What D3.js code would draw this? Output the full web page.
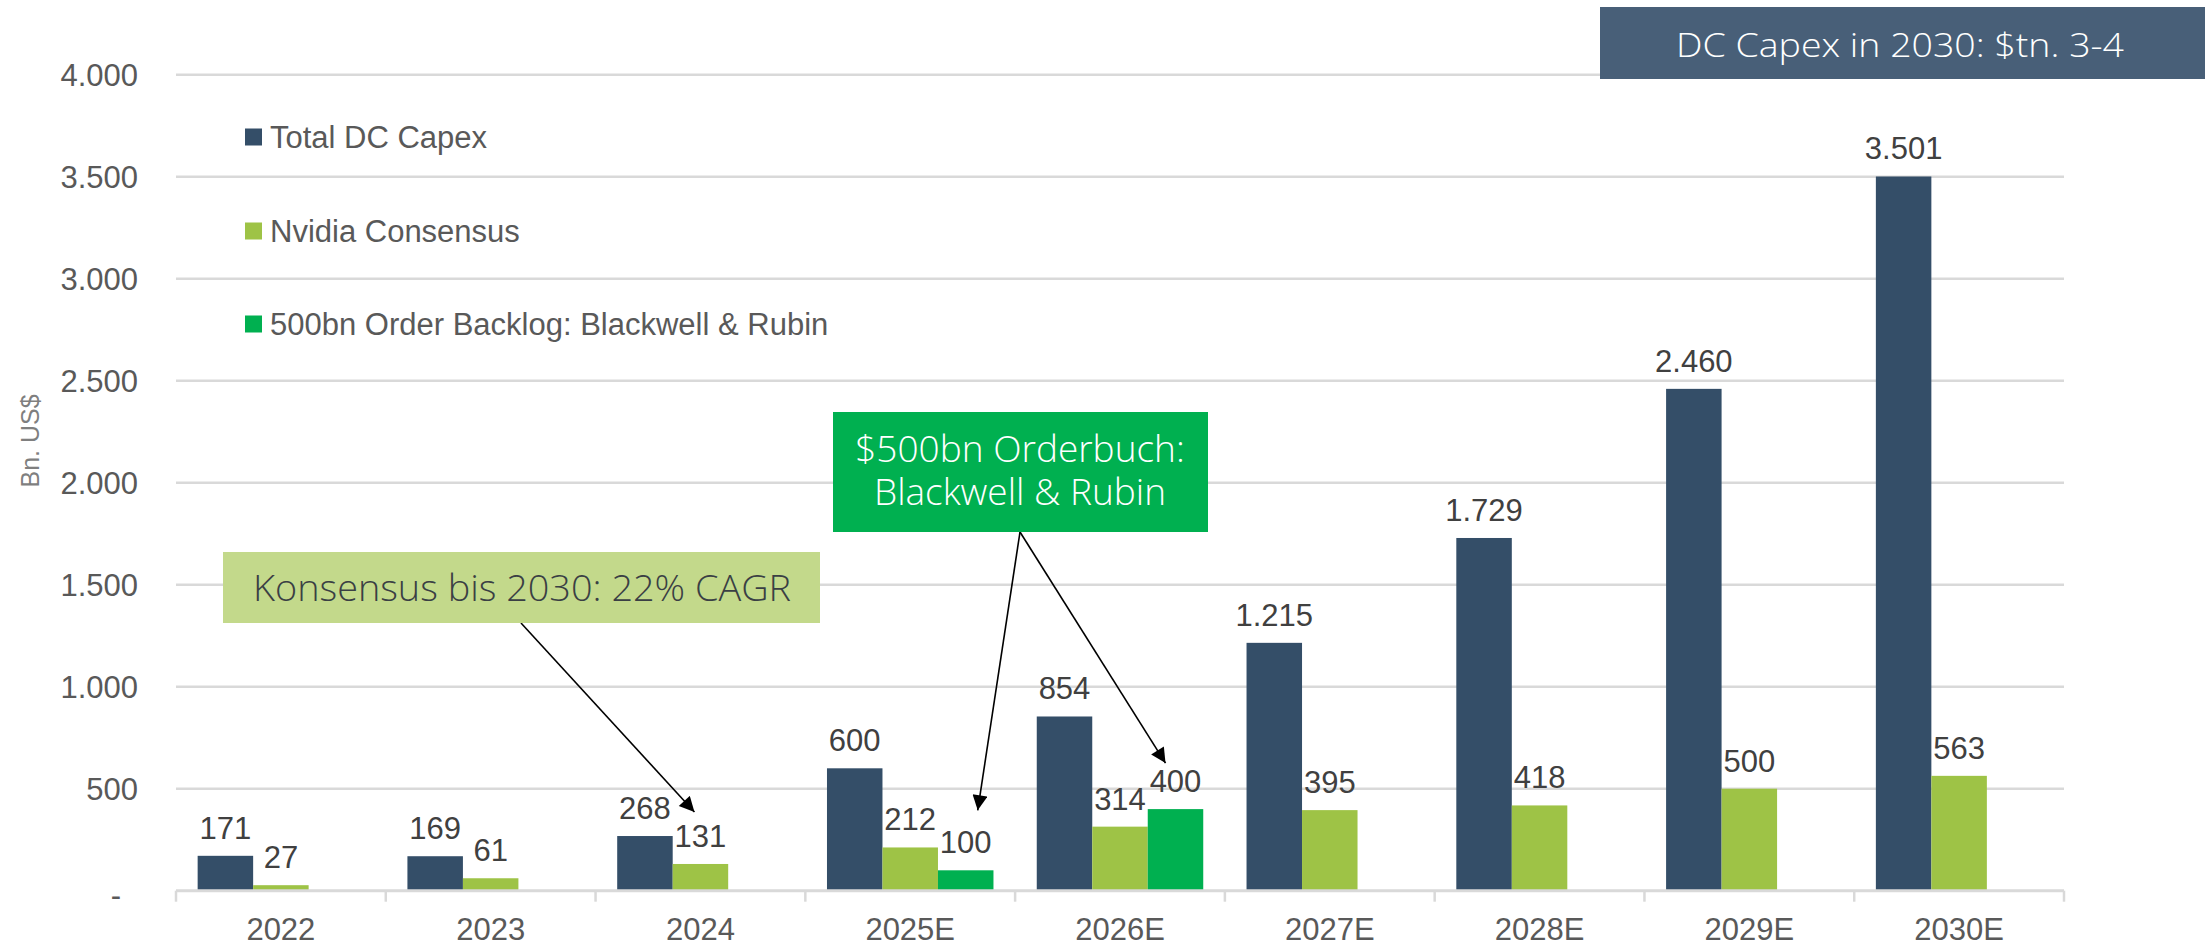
<!DOCTYPE html>
<html>
<head>
<meta charset="utf-8">
<script src="https://cdn.jsdelivr.net/npm/d3@7"></script>
<style>
  html, body { margin: 0; padding: 0; background: #fff; }
  svg { display: block; }
  .num { font-family: "Liberation Sans", Arial, sans-serif; }
  .note { font-family: "Open Sans", Roboto, sans-serif; font-weight: 300; }
</style>
</head>
<body>
<div id="chart"></div>
<script>
// data
var years = ['2022', '2023', '2024', '2025E', '2026E', '2027E', '2028E', '2029E', '2030E'];
var totalCapex = [171, 169, 268, 600, 854, 1215, 1729, 2460, 3501];
var nvidiaConsensus = [27, 61, 131, 212, 314, 395, 418, 500, 563];
var orderBacklog = [null, null, null, 100, 400, null, null, null, null];
var seriesNames = ['Total DC Capex', 'Nvidia Consensus', '500bn Order Backlog: Blackwell & Rubin'];
var seriesColors = ['#344e68', '#9ec346', '#00b050'];
var yTicks = [0, 500, 1000, 1500, 2000, 2500, 3000, 3500, 4000];

var w = 2205,
    h = 949,
    plotLeft = 176,
    plotRight = 2064,
    plotTop = 74.7,
    plotBottom = 890.7;

var de = d3.formatLocale({ decimal: ',', thousands: '.', grouping: [3], currency: ['', ' €'] });
var fmt = de.format(',d');

var svg = d3.select('#chart').append('svg')
    .attr('width', w)
    .attr('height', h);

var defs = svg.append('defs');
defs.append('marker')
    .attr('id', 'arrow')
    .attr('viewBox', '0 0 10 10')
    .attr('refX', 10)
    .attr('refY', 5)
    .attr('markerWidth', 17)
    .attr('markerHeight', 15)
    .attr('markerUnits', 'userSpaceOnUse')
    .attr('orient', 'auto')
  .append('path')
    .attr('d', 'M0,0 L10,5 L0,10 Z')
    .attr('fill', '#000');

var x0 = d3.scaleBand().domain(years).range([plotLeft, plotRight]).paddingInner(0).paddingOuter(0);
var x1 = d3.scaleBand().domain(d3.range(seriesNames.length)).range([0, x0.bandwidth()])
    .paddingInner(0).paddingOuter(0.39);
var y = d3.scaleLinear().domain([0, 4000]).range([plotBottom, plotTop]);

// gridlines
svg.append('g')
    .selectAll('line')
    .data(yTicks.filter(function(d){ return d > 0; }))
    .enter().append('line')
    .attr('x1', plotLeft)
    .attr('x2', plotRight)
    .attr('y1', function(d){ return y(d); })
    .attr('y2', function(d){ return y(d); })
    .attr('stroke', '#d9d9d9')
    .attr('stroke-width', 2.5);

// y axis labels
var yAxis = d3.axisLeft(y)
    .tickValues(yTicks)
    .tickSize(0)
    .tickPadding(0)
    .tickFormat(function(d){ return d === 0 ? '-' : fmt(d); });
var gy = svg.append('g')
    .attr('transform', 'translate(138,0)')
    .call(yAxis);
gy.select('.domain').remove();
gy.selectAll('text')
    .attr('class', 'num')
    .attr('font-size', 31)
    .attr('fill', '#595959')
    .attr('dy', '0.35em')
    .attr('x', function(d){ return d === 0 ? -17 : 0; })
    .attr('y', function(d){ return d === 0 ? 4 : 0; });

svg.append('text')
    .attr('class', 'num')
    .attr('transform', 'translate(39,441) rotate(-90)')
    .attr('text-anchor', 'middle')
    .attr('font-size', 25)
    .attr('fill', '#7f7f7f')
    .text('Bn. US$');

// bars
var rows = years.map(function(year, i){
    return { year: year, values: [totalCapex[i], nvidiaConsensus[i], orderBacklog[i]] };
});

var groups = svg.append('g')
    .selectAll('g')
    .data(rows)
    .enter().append('g')
    .attr('transform', function(d){ return 'translate(' + x0(d.year) + ',0)'; });

var cells = function(d){
    return d.values.map(function(v, k){ return { k: k, v: v }; })
        .filter(function(c){ return c.v !== null; });
};

groups.selectAll('rect')
    .data(cells)
    .enter().append('rect')
    .attr('x', function(d){ return x1(d.k); })
    .attr('width', x1.bandwidth())
    .attr('y', function(d){ return y(d.v); })
    .attr('height', function(d){ return plotBottom - y(d.v); })
    .attr('fill', function(d){ return seriesColors[d.k]; });

groups.selectAll('text')
    .data(cells)
    .enter().append('text')
    .attr('class', 'num')
    .attr('x', function(d){ return x1(d.k) + x1.bandwidth() / 2; })
    .attr('y', function(d){ return y(d.v) - 17; })
    .attr('text-anchor', 'middle')
    .attr('font-size', 31)
    .attr('fill', '#404040')
    .text(function(d){ return fmt(d.v); });

// x axis
svg.append('line')
    .attr('x1', plotLeft).attr('x2', plotRight)
    .attr('y1', plotBottom).attr('y2', plotBottom)
    .attr('stroke', '#d9d9d9')
    .attr('stroke-width', 3);

var edges = years.map(function(d){ return x0(d); }).concat([plotRight]);
svg.append('g')
    .selectAll('line')
    .data(edges)
    .enter().append('line')
    .attr('x1', function(d){ return d; })
    .attr('x2', function(d){ return d; })
    .attr('y1', plotBottom)
    .attr('y2', plotBottom + 11)
    .attr('stroke', '#d9d9d9')
    .attr('stroke-width', 2.5);

svg.append('g')
    .selectAll('text')
    .data(years)
    .enter().append('text')
    .attr('class', 'num')
    .attr('x', function(d){ return x0(d) + x0.bandwidth() / 2; })
    .attr('y', 940)
    .attr('text-anchor', 'middle')
    .attr('font-size', 31)
    .attr('fill', '#595959')
    .text(function(d){ return d; });

// legend
var legend = svg.append('g')
    .selectAll('g')
    .data(seriesNames)
    .enter().append('g')
    .attr('transform', function(d, i){ return 'translate(245,' + [137, 231, 324][i] + ')'; });
legend.append('rect')
    .attr('y', -8.5)
    .attr('width', 17)
    .attr('height', 17)
    .attr('fill', function(d, i){ return seriesColors[i]; });
legend.append('text')
    .attr('class', 'num')
    .attr('x', 25)
    .attr('dy', '0.35em')
    .attr('font-size', 31)
    .attr('fill', '#595959')
    .text(function(d){ return d; });

// callouts
var barTop = function(year, k, v){
    return { x: x0(year) + x1(k) + x1.bandwidth() / 2, y: y(v) };
};

svg.append('rect')
    .attr('x', 1600).attr('y', 7)
    .attr('width', 605).attr('height', 72)
    .attr('fill', '#485f78');
svg.append('text')
    .attr('class', 'note')
    .attr('x', 1900).attr('y', 57)
    .attr('text-anchor', 'middle')
    .attr('font-size', 33)
    .attr('textLength', 448)
    .attr('lengthAdjust', 'spacingAndGlyphs')
    .attr('fill', '#fff')
    .text('DC Capex in 2030: $tn. 3-4');

var cagrTip = barTop('2024', 1, nvidiaConsensus[2]);
svg.append('line')
    .attr('x1', 521).attr('y1', 623)
    .attr('x2', cagrTip.x - 6).attr('y2', cagrTip.y - 52)
    .attr('stroke', '#000')
    .attr('stroke-width', 1.6)
    .attr('marker-end', 'url(#arrow)');
svg.append('rect')
    .attr('x', 223).attr('y', 552)
    .attr('width', 597).attr('height', 71)
    .attr('fill', '#c3d98b');
svg.append('text')
    .attr('class', 'note')
    .attr('x', 522).attr('y', 601)
    .attr('text-anchor', 'middle')
    .attr('font-size', 36)
    .attr('textLength', 538)
    .attr('lengthAdjust', 'spacingAndGlyphs')
    .attr('fill', '#3a3f44')
    .text('Konsensus bis 2030: 22% CAGR');

var tipA = barTop('2025E', 2, orderBacklog[3]);
var tipB = barTop('2026E', 2, orderBacklog[4]);
svg.append('g')
    .selectAll('line')
    .data([{ x: tipA.x + 12, y: tipA.y - 60 }, { x: tipB.x - 10, y: tipB.y - 46 }])
    .enter().append('line')
    .attr('x1', 1020).attr('y1', 532)
    .attr('x2', function(d){ return d.x; })
    .attr('y2', function(d){ return d.y; })
    .attr('stroke', '#000')
    .attr('stroke-width', 1.6)
    .attr('marker-end', 'url(#arrow)');
svg.append('rect')
    .attr('x', 833).attr('y', 412)
    .attr('width', 375).attr('height', 120)
    .attr('fill', '#00b050');
svg.append('g')
    .selectAll('text')
    .data(['$500bn Orderbuch:', 'Blackwell & Rubin'])
    .enter().append('text')
    .attr('class', 'note')
    .attr('x', 1020)
    .attr('y', function(d, i){ return 462 + i * 43; })
    .attr('text-anchor', 'middle')
    .attr('font-size', 37)
    .attr('fill', '#fff')
    .text(function(d){ return d; });
</script>
</body>
</html>
